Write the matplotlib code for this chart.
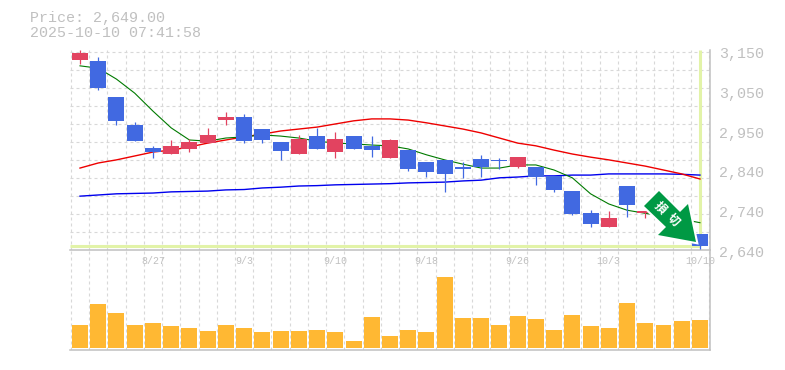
import matplotlib.pyplot as plt
import numpy as np
from matplotlib.patches import Polygon

opens = [3127,3124,3032,2960,2901,2886,2899,2914,2973,2981,2950,2917,2886,2932,2891,2932,2907,2876,2896,2866,2871,2853,2873,2871,2853,2853,2830,2791,2735,2699,2804,2735,2768,2730,2681]
closes = [3145,3055,2971,2919,2891,2907,2917,2935,2981,2919,2922,2894,2925,2899,2925,2899,2896,2922,2848,2840,2835,2848,2853,2868,2878,2827,2794,2732,2707,2722,2755,2740,2725,2695,2649]
highs = [3152,3135,3032,2968,2907,2922,2925,2953,2994,2989,2950,2917,2935,2953,2942,2932,2932,2925,2896,2866,2871,2866,2884,2876,2878,2853,2830,2791,2742,2740,2804,2740,2768,2730,2681]
lows = [3117,3050,2960,2919,2876,2886,2891,2914,2960,2914,2914,2871,2886,2899,2876,2899,2878,2876,2842,2827,2789,2825,2827,2848,2850,2807,2789,2730,2699,2699,2725,2722,2725,2695,2642]
ma_short = [3112,3106,3078,3042,2996,2953,2922,2919,2927,2930,2935,2932,2927,2919,2914,2912,2909,2907,2899,2884,2871,2860,2850,2850,2858,2858,2845,2825,2784,2758,2742,2734,2727,2719,2710]
ma_mid = [2850,2863,2871,2881,2891,2896,2904,2914,2922,2930,2937,2945,2950,2955,2963,2971,2976,2976,2973,2966,2958,2950,2940,2927,2914,2907,2896,2886,2878,2871,2863,2855,2845,2835,2822]
ma_long = [2778,2781,2784,2785,2786,2789,2790,2791,2794,2795,2799,2801,2804,2805,2807,2808,2809,2810,2812,2813,2814,2817,2819,2825,2827,2830,2830,2832,2832,2835,2835,2835,2835,2834,2832]
volume = [23,44,35,23,25,22,20,17,23,20,16,17,17,18,16,7,31,12,18,16,71,30,30,23,32,29,18,33,22,20,45,25,23,27,28]

date_idx = [4,9,14,19,24,29,34]
date_labels = ['8/27','9/3','9/10','9/18','9/26','10/3','10/10']
price_ticks = [2640,2742,2844,2946,3048,3150]
price_labels = ['2,640','2,740','2,840','2,950','3,050','3,150']
last_price = 2649

GRAY = '#c0c0c0'
GRID = '#d8d8d8'
BLUE = '#4169e1'
RED = '#e24360'
FW, FH = 785, 370
mono = 'Liberation Mono'
dash = (0, (2.7, 2.7))

fig = plt.figure(figsize=(FW/100, FH/100), dpi=100, facecolor='white')
ax = fig.add_axes([70/FW, 1-250/FH, 640/FW, 200/FH])
ax2 = fig.add_axes([70/FW, 1-350/FH, 640/FW, 100/FH])

x = np.arange(len(opens))
o = np.array(opens)
c = np.array(closes)
cols = [RED if c[i] > o[i] else BLUE for i in x]

for a in (ax, ax2):
    a.set_xlim(-0.548, 34.55)
    a.set_xticks(np.arange(len(x)+1)-0.5)
    a.tick_params(length=0, labelbottom=False, labelleft=False)
    a.grid(axis='x', color=GRID, linestyle=dash, linewidth=0.8, zorder=0)
    a.set_axisbelow(True)
    for s in ('top', 'left'):
        a.spines[s].set_visible(False)
    for s in ('bottom', 'right'):
        a.spines[s].set_color(GRAY)
        a.spines[s].set_linewidth(1.1)

ax.set_ylim(2640, 3152.6)
ax.set_yticks(2640 + np.arange(12)*46.13)
ax.grid(axis='y', color=GRID, linestyle=dash, linewidth=0.8, zorder=0)

# crosshair on last price / last day
ax.hlines(last_price, -0.548, 34, color='#e2f3a8', linewidth=2.2, zorder=1)
ax.vlines(34, last_price, 3152.6, color='#e2f3a8', linewidth=2.2, zorder=1)

ax.plot(x, ma_long, color='#0000ee', linewidth=1.0, zorder=2)
ax.plot(x, ma_mid, color='#ee0000', linewidth=1.0, zorder=2)
ax.plot(x, ma_short, color='#007a00', linewidth=0.8, zorder=2)

ax.vlines(x, lows, highs, colors=cols, linewidth=0.9, zorder=3)
ax.bar(x, np.abs(c-o), bottom=np.minimum(o, c), width=0.877, color=cols, zorder=4)

ax2.set_ylim(-2, 98)
ax2.set_yticks([])
ax2.bar(x, volume, width=0.877, color='#ffb833', zorder=3)

for v, lab in zip(price_ticks, price_labels):
    ax.annotate(lab, (1, v), xycoords=ax.get_yaxis_transform(), xytext=(9*0.72, -3*0.72),
                textcoords='offset points', ha='left', va='center', fontsize=10.8,
                family=mono, color=GRAY, annotation_clip=False)
for i, lab in zip(date_idx, date_labels):
    ax.annotate(lab, (i, 0), xycoords=ax.get_xaxis_transform(), xytext=(0, -11*0.72),
                textcoords='offset points', ha='center', va='center', fontsize=7.2,
                family=mono, color=GRAY, annotation_clip=False)

fig.text(30/FW, 1-18/FH, 'Price: 2,649.00', family=mono, fontsize=10.8, color=GRAY, va='center')
fig.text(30/FW, 1-33/FH, '2025-10-10 07:41:58', family=mono, fontsize=10.8, color=GRAY, va='center')

# green arrow badge
arrow_px = [(659,191),(680,212),(688,204),(696,242),(658,235),(666,227),(644,206)]
arrow = Polygon([(px/FW, 1-py/FH) for px, py in arrow_px], closed=True, transform=fig.transFigure,
                facecolor='#009944', edgecolor='white', linewidth=3, joinstyle='miter',
                clip_on=False, zorder=6)
ax.add_patch(arrow)
arrow2 = Polygon([(px/FW, 1-py/FH) for px, py in arrow_px], closed=True, transform=fig.transFigure,
                 facecolor='#009944', edgecolor='none', clip_on=False, zorder=6)
ax.add_patch(arrow2)
for ch, (px, py) in zip('損切', [(660,208),(673,220)]):
    ax.text(px/FW, 1-py/FH, ch, transform=fig.transFigure, rotation=-45, rotation_mode='anchor',
            ha='center', va='center', color='white', fontsize=8.5, fontweight='bold',
            family='Noto Sans CJK JP', zorder=7)

ax.set_zorder(2)
ax.patch.set_alpha(0)
plt.savefig('out.png', dpi=100)
